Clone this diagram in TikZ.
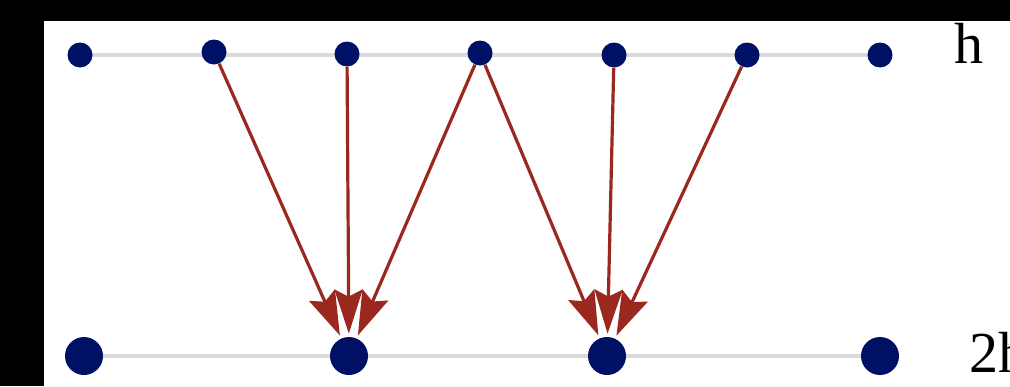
\documentclass[tikz,border=0pt]{standalone}
\usepackage{fontspec}
\setmainfont{Liberation Serif}
\usetikzlibrary{arrows.meta,backgrounds}

\definecolor{navy}{RGB}{0,16,100}
\definecolor{linkred}{RGB}{155,40,30}
\definecolor{rowgray}{RGB}{218,218,218}

\tikzset{
    topdot/.style={circle, fill=navy, inner sep=0pt, minimum size=12.5pt},
    botdot/.style={circle, fill=navy, inner sep=0pt, minimum size=19pt},
    link/.style={draw=linkred, line width=1.6pt, shorten >=1.5pt,
        -{Stealth[length=22pt, width=14pt, inset=3.5pt]}},
    rowline/.style={draw=rowgray, line width=1.6pt},
    level/.style={anchor=base, font=\fontsize{29}{30}\selectfont}
}

\begin{document}
\begin{tikzpicture}[
    x=0.5pt,
    y=-0.5pt
]

% Frame
\useasboundingbox (0,0) rectangle (1010,386);
\clip (0,0) rectangle (1010,386);

% Top row (h)
\foreach \i/\x/\y in {
    1/80/55,
    2/214/52,
    3/347/54,
    4/480/53,
    5/614/55,
    6/747/55,
    7/880/55
} {
    \node[topdot] (t\i) at (\x,\y) {};
}

% Bottom row (2h)
\foreach \i/\x in {
    1/84,
    2/349,
    3/607,
    4/880
} {
    \node[botdot] (b\i) at (\x,356) {};
}

% Row lines, behind the dots
\begin{pgfonlayer}{background}
    \fill[black] (0,0) rectangle (1010,386);
    \fill[white] (44,21) rectangle (1010,386);
    \path[rowline] (t1.center) -- (t7.center);
    \path[rowline] (b1.center) -- (b4.center);
\end{pgfonlayer}

% Links
\foreach \s/\t in {2/2, 3/2, 4/2, 4/3, 5/3, 6/3}
    \path[link] (t\s) -- (b\t);

% Labels
\node[level] (hlab) at (969,63) {h};
\node[level, anchor=base west] (hhlab) at (962,372) {2h};

\end{tikzpicture}
\end{document}
